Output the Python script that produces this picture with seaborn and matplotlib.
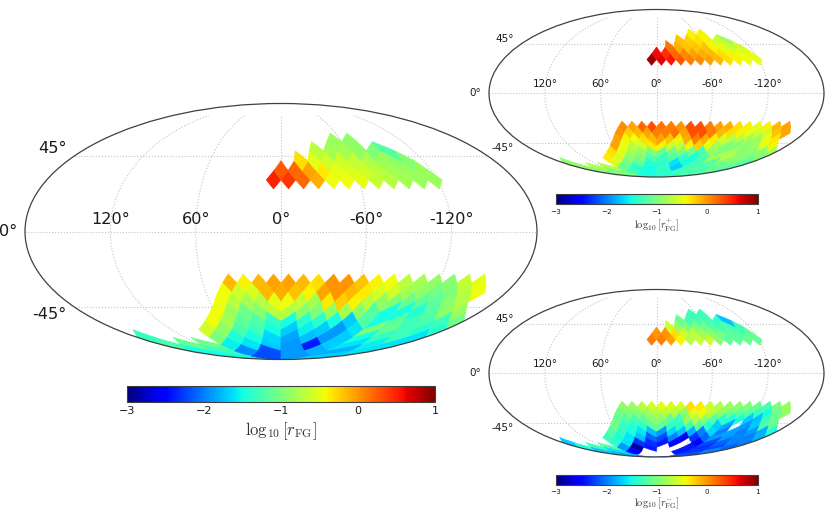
import numpy as np
import matplotlib
matplotlib.use("Agg")
import matplotlib.pyplot as plt
from matplotlib.collections import PolyCollection
from matplotlib.cm import ScalarMappable
from matplotlib.colors import Normalize
import seaborn as sns

sns.set_style("white")
plt.rcParams['font.family'] = ['DejaVu Sans']
plt.rcParams['mathtext.fontset'] = 'cm'

# HEALPix (NSIDE 8) rings: 'r' = equatorial ring number, 'k' = polar ring counted from the pole.
# Each list runs screen-left to screen-right over the ring's pixels; None = no data.
LON_LABELS = ['120°', '60°', '0°', '-60°', '-120°']
LON_TICKS = [-120, -60, 0, 60, 120]
LAT_TICKS = [-45, 0, 45]
CBAR_TICKS = [-3, -2, -1, 0, 1]

# rings as (name, height above the equator in half pixels, first column); column = longitude / 5.625 deg
NORTH_RINGS = [('r', 6, 1), ('r', 7, 0), ('r', 8, -3), ('k', 9, -6), ('k', 10, -9)]
SOUTH_RINGS = [('r', 6, 7), ('r', 7, 8), ('r', 8, 9), ('k', 9, 10), ('k', 10, 11), ('k', 11, 12),
               ('k', 12, 27), ('k', 13, 26), ('k', 14, 25), ('k', 15, 24)]

# ---- main map: log10 r_FG
main_n_r10 = [.5, .42, .2, -.1, -.45, -.45, -.5, -.65, -.7, -.8, -.85, -.85]
main_n_r9 = [.25, .2, -.05, -.35, -.5, -.55, -.6, -.7, -.8, -.85, -.85]
main_n_r8 = [-.3, -.5, -.6, -.6, -.65, -.75, -.85, -.9, -.95]
main_n_k7 = [-.7, -.8, -.8, -.9, -1.0, -1.2]
main_n_k6 = [-.85, -.9]
main_s_r22 = [-.15, -.4, -.15, -.05, -.05, -.15, -.3, 0, 0, -.2, -.4, -.45, -.7, -.8, -.9, -.95, -.65, -.5]
main_s_r23 = [-.45, -.6, -.55, -.15, -.1, -.2, -.4, -.05, 0, -.15, -.35, -.55, -.6, -.8, -.9, -1.05, -1.0, -.7, -.45]
main_s_r24 = [-.45, -.7, -.8, -.75, -.5, -.45, -.65, -.8, -.35, -.25, -.4, -.7, -.9, -1.0, -1.1, -1.15, -1.15, -.95, -.75]
main_s_k7 = [-.45, -.85, -1.05, -.95, -.7, -.75, -.95, -1.0, -.9, -.8, -.95, -1.2, -1.5, -1.5, -1.45, -1.2, -.9, -.85]
main_s_k6 = [-.45, -.8, -1.15, -1.2, -1.35, -1.5, -1.4, -1.4, -1.5, -1.7, -1.2, -1.5, -1.2, -1.3, -1.25, -1.3, -1.05]
main_s_k5 = [-.6, -.9, -1.25, -1.3, -1.5, -1.7, -1.55, -1.7, -1.9, -1.6, -1.0, -1.1, -1.3, -1.4, -1.4]
main_s_k4 = [-1.35, None, None, None, -1.0, -1.45, -1.5, -1.65, -1.85, -1.75, -1.9, -1.7, -1.5, -1.35, -1.3, -1.6]
main_s_k3 = [-1.25, -1.1, -1.05, -1.55, -1.6, -1.7, -1.9, -2.4, -1.7, -1.6, -1.55, -1.6]
main_s_k2 = [-1.5, -1.3, -1.95, -2.2, -1.9, -1.8, -1.8, -1.6]
main_s_k1 = [-1.5, -2.2, -1.9, -1.7]

# ---- upper small map: log10 r+_FG
plus_n_r10 = [.9, .65, .55, .25, .1, .05, -.05, -.15, -.3, -.4, -.45, -.5]
plus_n_r9 = [.6, .45, .2, .05, -.05, -.1, -.15, -.3, -.4, -.45, -.5]
plus_n_r8 = [.15, -.1, -.2, -.2, -.2, -.4, -.5, -.6, -.6]
plus_n_k7 = [-.2, -.25, -.3, -.4, -.6, -.8]
plus_n_k6 = [-.4, -.4]
plus_s_r22 = [.05, -.05, .2, .3, .15, .1, 0, .3, .3, .1, -.05, -.1, -.3, -.4, -.5, -.4, -.15, -.05]
plus_s_r23 = [0, -.25, -.15, -.05, .1, .1, .15, -.05, .3, .3, .1, -.15, -.3, -.4, -.5, -.6, -.6, -.2, -.05]
plus_s_r24 = [-.05, -.4, -.45, -.3, -.15, -.05, -.2, -.4, -.1, .1, -.1, -.35, -.6, -.7, -.75, -.8, -.85, -.45, -.35]
plus_s_k7 = [-.05, -.5, -.7, -.6, -.35, -.4, -.6, -.65, -.4, -.25, -.5, -.8, -1.0, -1.0, -.95, -.85, -.5, -.4]
plus_s_k6 = [-.3, -.5, -.8, -.85, -1.0, -1.1, -1.05, -1.0, -1.1, -1.3, -.9, -1.0, -.8, -.95, -.95, -.95, -.8]
plus_s_k5 = [-.35, -.55, -.9, -1.0, -1.2, -1.3, -1.2, -1.35, -1.45, -1.2, -.75, -.75, -.95, -1.0, -1.0]
plus_s_k4 = [-.9, None, None, None, -.55, -1.05, -1.1, -1.4, -1.4, -1.6, -1.5, -1.3, -1.2, -1.0, -1.0, -1.2]
plus_s_k3 = [-.9, -.75, -.7, -1.1, -1.4, -1.5, -1.35, -1.7, -1.25, -1.2, -1.1, -1.2]
plus_s_k2 = [-1.0, -1.0, -1.3, -1.5, -1.4, -1.3, -1.3, -1.2]
plus_s_k1 = [-1.0, -1.5, -1.4, -1.25]

# ---- lower small map: log10 r-_FG
minus_n_r10 = [.1, .1, -.05, -.4, -.75, -.65, -.6, -.95, -1.15, -1.15, -1.1, -1.1]
minus_n_r9 = [0, 0, -.3, -.6, -.7, -.85, -.9, -1.05, -1.15, -1.2, -1.15]
minus_n_r8 = [-.6, -.85, -.95, -.95, -1.05, -1.2, -1.25, -1.25, -1.3]
minus_n_k7 = [-1.1, -1.25, -1.25, -1.25, -1.35, -1.75]
minus_n_k6 = [-1.3, -1.3]
minus_s_r22 = [-.9, -.85, -.7, -.6, -.5, -.55, -.6, -.3, -.35, -.6, -.75, -.85, -.9, -1.0, -1.1, -1.25, -1.0, -.85]
minus_s_r23 = [-1.05, -1.0, -.95, -.85, -.75, -.7, -.75, -.95, -.5, -.45, -.7, -.9, -1.05, -1.15, -1.2, -1.35, -1.5, -1.1, -.9]
minus_s_r24 = [-1.1, -1.2, -1.25, -1.15, -.95, -.95, -1.15, -1.3, -.85, -.75, -.95, -1.2, -1.4, -1.45, -1.5, -1.7, -1.75, -1.3, -1.05]
minus_s_k7 = [-1.05, -1.35, -1.4, -1.35, -1.15, -1.15, -1.35, -1.4, -1.25, -1.15, -1.4, -1.7, -1.85, None, -1.9, -1.7, -1.25, -1.15]
minus_s_k6 = [-1.2, -1.35, -1.5, -1.6, -1.75, -1.9, -1.65, -1.75, -1.8, -2.0, -1.65, -2.0, -1.85, -2.0, -1.9, -1.8, -1.5]
minus_s_k5 = [-1.3, -1.45, -1.6, -1.75, -2.1, -2.2, -2.0, -2.6, -2.3, -2.1, -1.9, -1.9, -2.0, -2.0, -1.8]
minus_s_k4 = [-1.7, None, None, None, -1.4, -1.6, -2.3, -2.3, -2.4, -2.55, None, -2.5, -2.2, -2.1, -2.0, -2.0]
minus_s_k3 = [-1.5, -1.3, -1.2, -1.9, -2.9, -2.4, None, None, -2.4, -2.3, -2.2, -2.1]
minus_s_k2 = [-1.7, -1.6, -2.5, None, None, -2.4, -2.3, -2.0]
minus_s_k1 = [-1.8, None, None, -2.2]

MAIN = ([main_n_r10, main_n_r9, main_n_r8, main_n_k7, main_n_k6],
        [main_s_r22, main_s_r23, main_s_r24, main_s_k7, main_s_k6, main_s_k5, main_s_k4, main_s_k3, main_s_k2, main_s_k1])
PLUS = ([plus_n_r10, plus_n_r9, plus_n_r8, plus_n_k7, plus_n_k6],
        [plus_s_r22, plus_s_r23, plus_s_r24, plus_s_k7, plus_s_k6, plus_s_k5, plus_s_k4, plus_s_k3, plus_s_k2, plus_s_k1])
MINUS = ([minus_n_r10, minus_n_r9, minus_n_r8, minus_n_k7, minus_n_k6],
         [minus_s_r22, minus_s_r23, minus_s_r24, minus_s_k7, minus_s_k6, minus_s_k5, minus_s_k4, minus_s_k3, minus_s_k2, minus_s_k1])


def columns(kind, h, start):
    if kind == 'r':
        return list(range(start, -33, -2))
    k = 16 - h
    cols = []
    for c in range(start, -33, -1):
        for cen in (24, 8, -8, -24):
            if abs(c - cen) < k and (c - cen - k + 1) % 2 == 0:
                cols.append(c)
    return cols


def to_sphere(c, x, h, sign):
    cen = 8 + 16 * np.floor(c / 16.0)
    if h <= 8:
        z, lon = 2 / 3 * h / 8, x
    else:
        k = 16 - h
        z, lon = 1 - k * k / 192, cen + (x - cen) * 8 / max(k, 1e-6)
    return -lon * np.pi / 32, sign * np.arcsin(z)


def polygon(c, h, sign):
    t = np.linspace(0, 1, 9)[:-1]
    px = [c, c - 1, c, c + 1, c]
    py = [h + 1, h, h - 1, h, h + 1]
    pts = []
    for i in range(4):
        for q in t:
            pts.append(to_sphere(c, px[i] + (px[i + 1] - px[i]) * q, py[i] + (py[i + 1] - py[i]) * q, sign))
    return np.array(pts)


def rings(values, defs, sign):
    polys, vals = [], []
    for vlist, (kind, h, start) in zip(values, defs):
        for c, v in zip(columns(kind, h, start), vlist):
            if v is not None:
                polys.append(polygon(c, h, sign))
                vals.append(v)
    return polys, vals


def draw(fig, rect, data, label, lon_fs, lat_fs, cb_rect, tick_fs, label_fs, label_pad, seam):
    ax = fig.add_axes(rect, projection='mollweide')
    ax.set_xticks(np.radians(LON_TICKS))
    ax.set_xticklabels(LON_LABELS, fontsize=lon_fs, color='#1a1a1a')
    ax.set_yticks(np.radians(LAT_TICKS))
    ax.tick_params(axis='y', labelsize=lat_fs, labelcolor='#1a1a1a')
    ax.grid(True, color='#c4c4c4', linestyle=':', linewidth=0.8)
    for s in ax.spines.values():
        s.set_edgecolor('#404040')
        s.set_linewidth(0.9)
    norm = Normalize(-3, 1)
    pn, vn = rings(data[0], NORTH_RINGS, 1)
    ps, vs = rings(data[1], SOUTH_RINGS, -1)
    coll = PolyCollection(pn + ps, array=np.array(vn + vs), cmap='jet', norm=norm,
                          edgecolors='face', linewidths=seam, zorder=1)
    ax.add_collection(coll)
    cax = fig.add_axes(cb_rect)
    cb = fig.colorbar(ScalarMappable(norm=norm, cmap='jet'), cax=cax, orientation='horizontal',
                      ticks=CBAR_TICKS)
    cb.ax.tick_params(labelsize=tick_fs, length=2, width=0.5, direction='in', pad=3,
                      color='#404040', labelcolor='#1a1a1a')
    cb.outline.set_edgecolor('#404040')
    cb.outline.set_linewidth(0.8)
    cb.set_label(label, fontsize=label_fs, color='#333333', labelpad=label_pad)


W, H = 830.0, 519.0
fig = plt.figure(figsize=(8.3, 5.19), dpi=100)


def R(x0, y0, x1, y1):
    return [x0 / W, 1 - y1 / H, (x1 - x0) / W, (y1 - y0) / H]


draw(fig, R(25, 103.5, 537, 359.5), MAIN, r'$\log_{10}[r_{\rm FG}]$', 11.6, 11.6,
     R(127, 386, 435, 402), 8, 12, 3, 0.5)
draw(fig, R(489, 9.5, 824, 177), PLUS, r'$\log_{10}[r^{+}_{\rm FG}]$', 7.5, 7.5,
     R(556, 194, 757.5, 204.5), 5.2, 7.5, 1, 0.4)
draw(fig, R(489, 289.5, 824, 457), MINUS, r'$\log_{10}[r^{-}_{\rm FG}]$', 7.5, 7.5,
     R(556, 474.5, 757.5, 484.5), 5.2, 7.5, 1, 0.4)

fig.savefig('out.png', dpi=100)
